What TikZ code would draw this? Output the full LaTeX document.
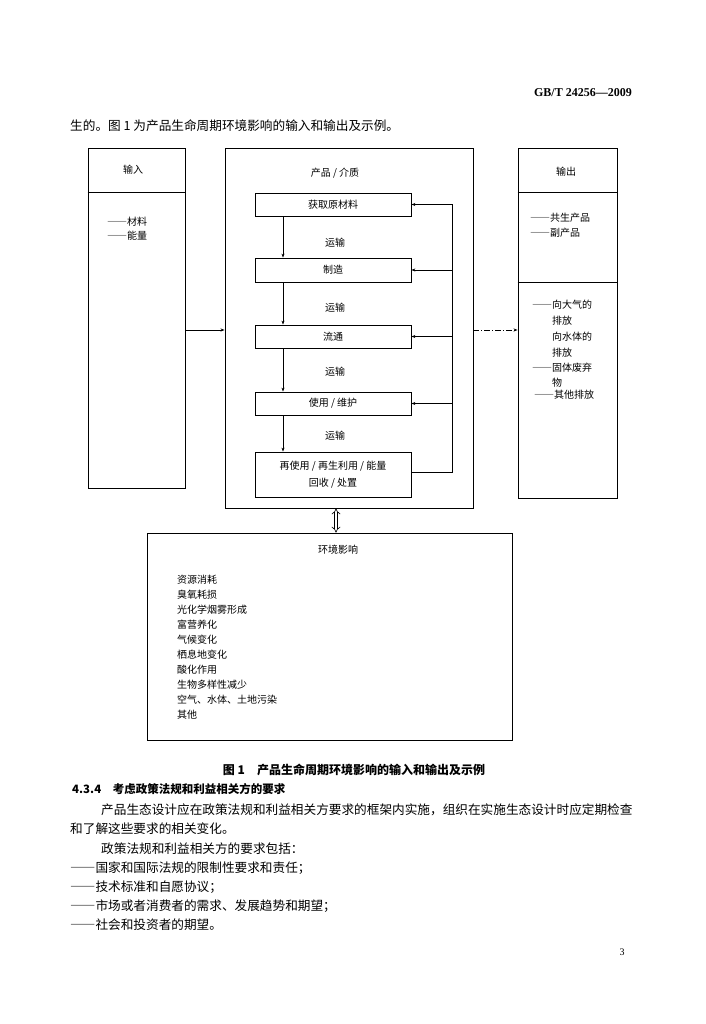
\documentclass[tikz,border=0pt]{standalone}
\usepackage{fontspec}
\setmainfont{Noto Sans CJK SC}
\newfontfamily\hdrfont{Liberation Serif}
\usetikzlibrary{arrows.meta}
\newcommand\dgm{\fontsize{10}{14}\selectfont}
\newcommand\bodyf{\fontsize{12.65}{15}\selectfont}
\newcommand\fdash{{\addfontfeature{CharacterWidth=Full}——}}
\tikzset{
  arr/.style={-{Stealth[length=4pt,width=3pt]}, line width=0.7pt},
  frame/.style={draw, line width=0.9pt, inner sep=0pt},
  stage/.style={draw, line width=0.8pt, minimum width=156pt, inner sep=0pt, font=\dgm, align=center},
  lbl/.style={inner sep=0pt, font=\dgm},
  body/.style={inner sep=0pt, anchor=west, font=\bodyf},
}
\begin{document}
\begin{tikzpicture}[x=1pt,y=-1pt]
\fill[white] (0,0) rectangle (705,1024);
\useasboundingbox (0,0) rectangle (705,1024);

% header and intro line
\node[inner sep=0pt, anchor=east, font=\hdrfont\bfseries\fontsize{12}{14}\selectfont] (hdr) at (632,93) {GB/T 24256—2009};
\node[body] (intro) at (70,126) {生的。图 1 为产品生命周期环境影响的输入和输出及示例。};

% input box
\node[frame, minimum width=97pt, minimum height=340pt] (inp) at (136.5,318) {};
\coordinate (d1) at (0,192);
\draw[line width=0.8pt] (inp.west |- d1) -- (inp.east |- d1);
\node[lbl] (inpt) at (133,170) {输入};
\node[lbl, anchor=west] (in1) at (107,222) {\fdash 材料};
\node[lbl, anchor=west] (in2) at (107,236) {\fdash 能量};

% main box
\node[frame, minimum width=248pt, minimum height=360pt] (main) at (349,328) {};
\node[lbl] (mt) at (335,173) {产品 / 介质};
\node[stage, minimum height=23pt] (s1) at (333,204.5) {获取原材料};
\node[stage, minimum height=24pt] (s2) at (333,270) {制造};
\node[stage, minimum height=23pt] (s3) at (333,336.5) {流通};
\node[stage, minimum height=23pt] (s4) at (333,403.5) {使用 / 维护};
\node[stage, minimum height=45pt] (s5) at (333,474.5) {再使用 / 再生利用 / 能量\\[3pt]回收 / 处置};
\node[lbl] (t1) at (335,243) {运输};
\node[lbl] (t2) at (335,308) {运输};
\node[lbl] (t3) at (335,372) {运输};
\node[lbl] (t4) at (335,436) {运输};

\coordinate (lx) at (283,0);
\draw[arr] (s1.south -| lx) -- (s2.north -| lx);
\draw[arr] (s2.south -| lx) -- (s3.north -| lx);
\draw[arr] (s3.south -| lx) -- (s4.north -| lx);
\draw[arr] (s4.south -| lx) -- (s5.north -| lx);

\coordinate (fb) at (452,0);
\coordinate (f5) at (0,472);
\draw[line width=0.7pt] (s5.east |- f5) -- (fb |- f5) -- (fb |- s1.east);
\draw[arr] (fb |- s1.east) -- (s1.east);
\draw[arr] (fb |- s2.east) -- (s2.east);
\draw[arr] (fb |- s3.east) -- (s3.east);
\draw[arr] (fb |- s4.east) -- (s4.east);

% output box
\node[frame, minimum width=99pt, minimum height=350pt] (out) at (567.5,323) {};
\coordinate (d2) at (0,282);
\draw[line width=0.8pt] (out.west |- d1) -- (out.east |- d1);
\draw[line width=0.8pt] (out.west |- d2) -- (out.east |- d2);
\node[lbl] (outt) at (566,172) {输出};
\node[lbl, anchor=west] (o1) at (530,218) {\fdash 共生产品};
\node[lbl, anchor=west] (o2) at (530,233) {\fdash 副产品};
\node[lbl, anchor=west] (o3) at (532,305) {\fdash 向大气的};
\node[lbl, anchor=west] (o4) at (552,321) {排放};
\node[lbl, anchor=west] (o5) at (552,337) {向水体的};
\node[lbl, anchor=west] (o6) at (552,353) {排放};
\node[lbl, anchor=west] (o7) at (532,368) {\fdash 固体废弃};
\node[lbl, anchor=west] (o8) at (552,383) {物};
\node[lbl, anchor=west] (o9) at (534,395) {\fdash 其他排放};

% input/output arrows
\coordinate (ya) at (0,330);
\draw[arr] (inp.east |- ya) -- (main.west |- ya);
\draw[arr, dash pattern=on 6pt off 2pt on 1pt off 2pt] (main.east |- ya) -- (out.west |- ya);

% environment box
\node[frame, minimum width=365pt, minimum height=207pt] (env) at (329.5,636.5) {};
\coordinate (dx) at (336,0);
\draw[double, double distance=2.5pt, line width=0.6pt, {Implies}-{Implies}] (main.south -| dx) -- (env.north -| dx);
\node[lbl] (envt) at (338,550) {环境影响};
\node[lbl, anchor=west] (e1) at (177,580) {资源消耗};
\node[lbl, anchor=west] (e2) at (177,595) {臭氧耗损};
\node[lbl, anchor=west] (e3) at (177,610) {光化学烟雾形成};
\node[lbl, anchor=west] (e4) at (177,625) {富营养化};
\node[lbl, anchor=west] (e5) at (177,640) {气候变化};
\node[lbl, anchor=west] (e6) at (177,655) {栖息地变化};
\node[lbl, anchor=west] (e7) at (177,670) {酸化作用};
\node[lbl, anchor=west] (e8) at (177,685) {生物多样性减少};
\node[lbl, anchor=west] (e9) at (177,700) {空气、水体、土地污染};
\node[lbl, anchor=west] (e10) at (177,715) {其他};

% caption and following text
\node[inner sep=0pt, font=\bfseries\fontsize{12}{14}\selectfont] (cap) at (354,770) {图 1\quad 产品生命周期环境影响的输入和输出及示例};
\node[body, font=\bfseries\fontsize{11.5}{13}\selectfont] (sec) at (72,789) {4.3.4\quad 考虑政策法规和利益相关方的要求};
\node[body] (p1) at (101,810) {产品生态设计应在政策法规和利益相关方要求的框架内实施，组织在实施生态设计时应定期检查};
\node[body] (p2) at (70,829) {和了解这些要求的相关变化。};
\node[body] (p3) at (101,849) {政策法规和利益相关方的要求包括：};
\node[body] (p4) at (70,868) {\fdash 国家和国际法规的限制性要求和责任；};
\node[body] (p5) at (70,887) {\fdash 技术标准和自愿协议；};
\node[body] (p6) at (70,906) {\fdash 市场或者消费者的需求、发展趋势和期望；};
\node[body] (p7) at (70,925) {\fdash 社会和投资者的期望。};
\node[inner sep=0pt, font=\hdrfont\fontsize{10}{12}\selectfont] (pg) at (622,952) {3};
\end{tikzpicture}
\end{document}
